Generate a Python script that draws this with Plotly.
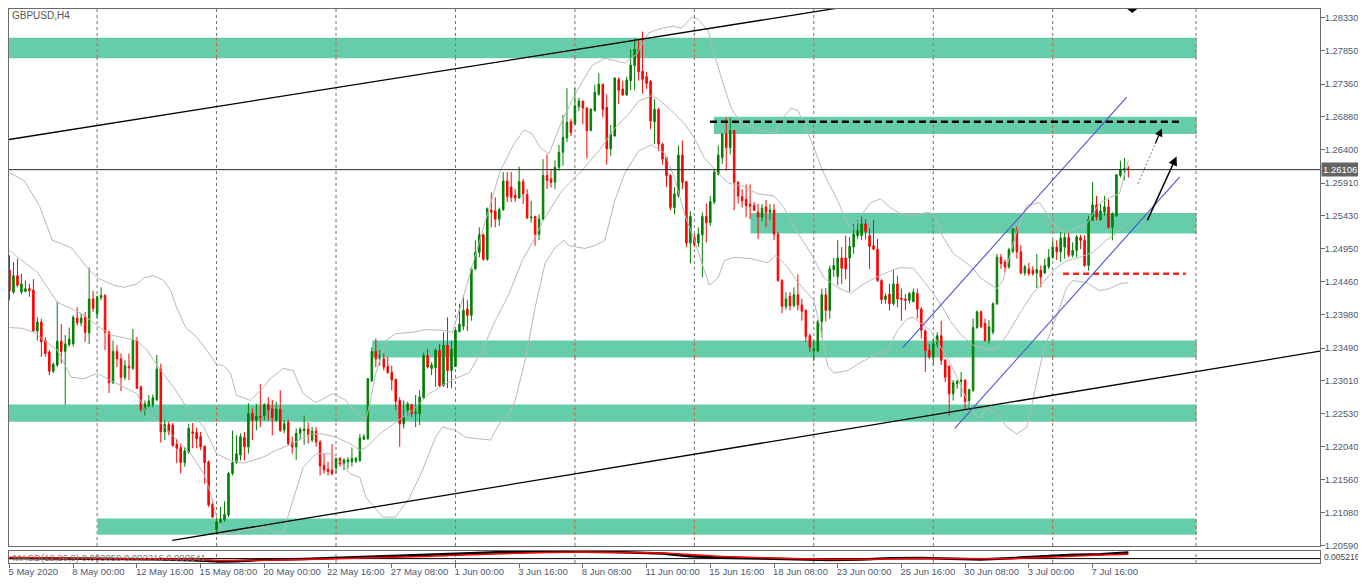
import plotly.graph_objects as go

# ---------------- data ----------------
tick_bars = [0, 16, 32, 48, 64, 80, 96, 112, 128, 144, 160, 176, 192, 208, 224, 240, 256, 272]
tick_text = ["5 May 2020", "8 May 00:00", "12 May 16:00", "15 May 08:00", "20 May 00:00",
             "22 May 16:00", "27 May 08:00", "1 Jun 00:00", "3 Jun 16:00", "8 Jun 08:00",
             "11 Jun 00:00", "15 Jun 16:00", "18 Jun 08:00", "23 Jun 00:00", "25 Jun 16:00",
             "30 Jun 08:00", "3 Jul 00:00", "7 Jul 16:00"]
price_ticks = [1.28330, 1.27850, 1.27360, 1.26880, 1.26400, 1.25910, 1.25430, 1.24950, 1.24460,
               1.23980, 1.23490, 1.23010, 1.22530, 1.22040, 1.21560, 1.21080, 1.20590]

opens = [
    1.2463, 1.2431, 1.2455, 1.2431, 1.2432, 1.2436, 1.2434, 1.2374, 1.2387, 1.2360,
    1.2343, 1.2315, 1.2324, 1.2359, 1.2344, 1.2354, 1.2355, 1.2393, 1.2386, 1.2395,
    1.2371, 1.2421, 1.2399, 1.2423, 1.2426, 1.2372, 1.2298, 1.2344, 1.2333, 1.2306,
    1.2322, 1.2319, 1.2360, 1.2292, 1.2258, 1.2264, 1.2266, 1.2273, 1.2318, 1.2226,
    1.2237, 1.2236, 1.2208, 1.2203, 1.2181, 1.2196, 1.2226, 1.2225, 1.2219, 1.2205,
    1.2182, 1.2120, 1.2082, 1.2093, 1.2097, 1.2104, 1.2165, 1.2181, 1.2192, 1.2218,
    1.2204, 1.2253, 1.2243, 1.2249, 1.2250, 1.2266, 1.2260, 1.2243, 1.2259, 1.2229,
    1.2240, 1.2210, 1.2204, 1.2224, 1.2228, 1.2230, 1.2214, 1.2227, 1.2211, 1.2177,
    1.2171, 1.2170, 1.2173, 1.2187, 1.2180, 1.2182, 1.2182, 1.2183, 1.2184, 1.2215,
    1.2216, 1.2301, 1.2344, 1.2333, 1.2333, 1.2322, 1.2313, 1.2303, 1.2272, 1.2238,
    1.2258, 1.2266, 1.2253, 1.2253, 1.2276, 1.2338, 1.2319, 1.2320, 1.2345, 1.2294,
    1.2353, 1.2316, 1.2322, 1.2373, 1.2381, 1.2406, 1.2397, 1.2465, 1.2489, 1.2515,
    1.2479, 1.2551, 1.2550, 1.2538, 1.2552, 1.2594, 1.2585, 1.2573, 1.2569, 1.2593,
    1.2574, 1.2540, 1.2542, 1.2516, 1.2538, 1.2602, 1.2597, 1.2592, 1.2614, 1.2636,
    1.2657, 1.2681, 1.2678, 1.2703, 1.2711, 1.2701, 1.2668, 1.2697, 1.2721, 1.2736,
    1.2702, 1.2641, 1.2660, 1.2743, 1.2729, 1.2720, 1.2741, 1.2763, 1.2787, 1.2755,
    1.2747, 1.2740, 1.2681, 1.2699, 1.2648, 1.2628, 1.2602, 1.2555, 1.2573, 1.2632,
    1.2593, 1.2503, 1.2511, 1.2503, 1.2515, 1.2542, 1.2533, 1.2563, 1.2604, 1.2628,
    1.2663, 1.2643, 1.2668, 1.2592, 1.2571, 1.2567, 1.2560, 1.2558, 1.2548, 1.2541,
    1.2556, 1.2548, 1.2551, 1.2516, 1.2448, 1.2410, 1.2425, 1.2411, 1.2427, 1.2412,
    1.2404, 1.2367, 1.2345, 1.2345, 1.2388, 1.2427, 1.2404, 1.2464, 1.2454, 1.2481,
    1.2481, 1.2481, 1.2497, 1.2514, 1.2514, 1.2531, 1.2514, 1.2499, 1.2494, 1.2448,
    1.2420, 1.2428, 1.2414, 1.2443, 1.2422, 1.2421, 1.2419, 1.2417, 1.2429, 1.2406,
    1.2374, 1.2346, 1.2336, 1.2355, 1.2367, 1.2331, 1.2322, 1.2282, 1.2297, 1.2300,
    1.2302, 1.2272, 1.2287, 1.2379, 1.2402, 1.2385, 1.2360, 1.2372, 1.2414, 1.2482,
    1.2475, 1.2468, 1.2491, 1.2524, 1.2490, 1.2459, 1.2465, 1.2463, 1.2459, 1.2463,
    1.2459, 1.2468, 1.2482, 1.2497, 1.2490, 1.2497, 1.2511, 1.2485, 1.2492, 1.2511,
    1.2507, 1.2470, 1.2536, 1.2559, 1.2537, 1.2548, 1.2556, 1.2526, 1.2543, 1.2602,
    1.2610, 1.2612]
highs = [
    1.2485, 1.2475, 1.2480, 1.2458, 1.2448, 1.2443, 1.2450, 1.2394, 1.2392, 1.2365,
    1.2346, 1.2328, 1.2417, 1.2384, 1.2368, 1.2379, 1.2397, 1.2409, 1.2400, 1.2402,
    1.2467, 1.2433, 1.2426, 1.2438, 1.2428, 1.2375, 1.2360, 1.2353, 1.2341, 1.2331,
    1.2341, 1.2377, 1.2365, 1.2294, 1.2272, 1.2280, 1.2281, 1.2339, 1.2326, 1.2243,
    1.2241, 1.2239, 1.2216, 1.2209, 1.2204, 1.2238, 1.2239, 1.2232, 1.2226, 1.2206,
    1.2184, 1.2127, 1.2102, 1.2116, 1.2124, 1.2167, 1.2228, 1.2221, 1.2224, 1.2226,
    1.2268, 1.2260, 1.2267, 1.2296, 1.2268, 1.2277, 1.2273, 1.2270, 1.2287, 1.2243,
    1.2244, 1.2219, 1.2231, 1.2233, 1.2250, 1.2240, 1.2233, 1.2233, 1.2214, 1.2194,
    1.2182, 1.2208, 1.2188, 1.2189, 1.2187, 1.2189, 1.2203, 1.2189, 1.2223, 1.2223,
    1.2305, 1.2350, 1.2363, 1.2346, 1.2341, 1.2336, 1.2323, 1.2304, 1.2277, 1.2272,
    1.2270, 1.2267, 1.2280, 1.2287, 1.2342, 1.2348, 1.2328, 1.2348, 1.2355, 1.2372,
    1.2394, 1.2360, 1.2376, 1.2414, 1.2426, 1.2419, 1.2468, 1.2507, 1.2526, 1.2517,
    1.2555, 1.2577, 1.2570, 1.2555, 1.2607, 1.2607, 1.2607, 1.2582, 1.2615, 1.2597,
    1.2582, 1.2565, 1.2543, 1.2545, 1.2626, 1.2633, 1.2611, 1.2624, 1.2647, 1.2691,
    1.2730, 1.2685, 1.2730, 1.2716, 1.2712, 1.2702, 1.2701, 1.2735, 1.2752, 1.2736,
    1.2721, 1.2676, 1.2746, 1.2746, 1.2741, 1.2747, 1.2787, 1.2803, 1.2800, 1.2813,
    1.2754, 1.2742, 1.2714, 1.2701, 1.2650, 1.2630, 1.2604, 1.2585, 1.2646, 1.2653,
    1.2594, 1.2550, 1.2516, 1.2526, 1.2548, 1.2561, 1.2572, 1.2611, 1.2646, 1.2663,
    1.2687, 1.2687, 1.2669, 1.2594, 1.2582, 1.2589, 1.2589, 1.2563, 1.2560, 1.2560,
    1.2566, 1.2560, 1.2560, 1.2519, 1.2450, 1.2431, 1.2431, 1.2438, 1.2457, 1.2421,
    1.2406, 1.2370, 1.2360, 1.2390, 1.2436, 1.2437, 1.2470, 1.2481, 1.2507, 1.2497,
    1.2514, 1.2512, 1.2531, 1.2537, 1.2545, 1.2538, 1.2525, 1.2537, 1.2509, 1.2450,
    1.2429, 1.2443, 1.2464, 1.2455, 1.2436, 1.2428, 1.2431, 1.2436, 1.2436, 1.2409,
    1.2377, 1.2355, 1.2363, 1.2372, 1.2389, 1.2333, 1.2324, 1.2302, 1.2302, 1.2314,
    1.2303, 1.2289, 1.2392, 1.2404, 1.2404, 1.2392, 1.2390, 1.2416, 1.2487, 1.2487,
    1.2479, 1.2496, 1.2524, 1.2527, 1.2500, 1.2471, 1.2474, 1.2469, 1.2487, 1.2470,
    1.2480, 1.2494, 1.2507, 1.2507, 1.2519, 1.2519, 1.2519, 1.2504, 1.2515, 1.2515,
    1.2514, 1.2543, 1.2592, 1.2572, 1.2560, 1.2572, 1.2567, 1.2548, 1.2604, 1.2624,
    1.2628, 1.2616]
lows = [
    1.2419, 1.2428, 1.2438, 1.2428, 1.2431, 1.2424, 1.2372, 1.2360, 1.2336, 1.2336,
    1.2309, 1.2312, 1.2321, 1.2326, 1.2266, 1.2351, 1.2351, 1.2382, 1.2381, 1.2358,
    1.2355, 1.2402, 1.2392, 1.2419, 1.2346, 1.2283, 1.2296, 1.2321, 1.2286, 1.2302,
    1.2302, 1.2317, 1.2289, 1.2255, 1.2250, 1.2262, 1.2262, 1.2271, 1.2210, 1.2214,
    1.2221, 1.2204, 1.2180, 1.2165, 1.2175, 1.2194, 1.2202, 1.2202, 1.2199, 1.2150,
    1.2116, 1.2100, 1.2077, 1.2092, 1.2094, 1.2101, 1.2162, 1.2179, 1.2184, 1.2184,
    1.2194, 1.2214, 1.2228, 1.2233, 1.2243, 1.2243, 1.2221, 1.2241, 1.2226, 1.2224,
    1.2206, 1.2194, 1.2185, 1.2214, 1.2207, 1.2209, 1.2211, 1.2204, 1.2162, 1.2165,
    1.2162, 1.2162, 1.2165, 1.2175, 1.2170, 1.2172, 1.2175, 1.2180, 1.2182, 1.2214,
    1.2214, 1.2299, 1.2321, 1.2323, 1.2316, 1.2311, 1.2287, 1.2258, 1.2204, 1.2231,
    1.2250, 1.2248, 1.2233, 1.2236, 1.2275, 1.2319, 1.2309, 1.2292, 1.2292, 1.2292,
    1.2290, 1.2290, 1.2321, 1.2372, 1.2375, 1.2374, 1.2389, 1.2463, 1.2482, 1.2477,
    1.2477, 1.2526, 1.2526, 1.2528, 1.2550, 1.2563, 1.2563, 1.2563, 1.2568, 1.2560,
    1.2538, 1.2533, 1.2499, 1.2507, 1.2536, 1.2582, 1.2584, 1.2582, 1.2609, 1.2616,
    1.2651, 1.2660, 1.2676, 1.2697, 1.2677, 1.2627, 1.2667, 1.2696, 1.2719, 1.2687,
    1.2618, 1.2631, 1.2659, 1.2707, 1.2719, 1.2719, 1.2727, 1.2727, 1.2741, 1.2722,
    1.2729, 1.2670, 1.2648, 1.2638, 1.2618, 1.2585, 1.2551, 1.2545, 1.2570, 1.2582,
    1.2497, 1.2473, 1.2497, 1.2497, 1.2453, 1.2504, 1.2528, 1.2560, 1.2602, 1.2619,
    1.2609, 1.2633, 1.2551, 1.2561, 1.2555, 1.2541, 1.2538, 1.2551, 1.2509, 1.2535,
    1.2526, 1.2536, 1.2507, 1.2446, 1.2400, 1.2405, 1.2404, 1.2409, 1.2404, 1.2389,
    1.2358, 1.2343, 1.2330, 1.2343, 1.2365, 1.2388, 1.2392, 1.2453, 1.2441, 1.2443,
    1.2450, 1.2431, 1.2487, 1.2509, 1.2507, 1.2508, 1.2465, 1.2493, 1.2446, 1.2414,
    1.2414, 1.2404, 1.2411, 1.2409, 1.2389, 1.2404, 1.2414, 1.2416, 1.2392, 1.2363,
    1.2314, 1.2333, 1.2324, 1.2350, 1.2324, 1.2299, 1.2250, 1.2272, 1.2289, 1.2277,
    1.2258, 1.2260, 1.2284, 1.2377, 1.2378, 1.2358, 1.2355, 1.2369, 1.2412, 1.2465,
    1.2460, 1.2465, 1.2488, 1.2480, 1.2457, 1.2455, 1.2455, 1.2455, 1.2437, 1.2438,
    1.2458, 1.2465, 1.2480, 1.2478, 1.2475, 1.2480, 1.2482, 1.2482, 1.2482, 1.2494,
    1.2468, 1.2462, 1.2536, 1.2536, 1.2536, 1.2543, 1.2524, 1.2507, 1.2541, 1.2599,
    1.2595, 1.2599]
closes = [
    1.2433, 1.2455, 1.2441, 1.2443, 1.2436, 1.2433, 1.2374, 1.2387, 1.2358, 1.2341,
    1.2315, 1.2325, 1.2359, 1.2344, 1.2355, 1.2362, 1.2394, 1.2386, 1.2393, 1.2372,
    1.2421, 1.2407, 1.2424, 1.2426, 1.2372, 1.2298, 1.2344, 1.2333, 1.2306, 1.2323,
    1.2320, 1.2360, 1.2290, 1.2259, 1.2267, 1.2271, 1.2276, 1.2318, 1.2226, 1.2237,
    1.2226, 1.2206, 1.2202, 1.2181, 1.2198, 1.2231, 1.2224, 1.2216, 1.2204, 1.2181,
    1.2119, 1.2101, 1.2094, 1.2098, 1.2105, 1.2165, 1.2181, 1.2194, 1.2219, 1.2204,
    1.2253, 1.2243, 1.2249, 1.2247, 1.2266, 1.2258, 1.2247, 1.2259, 1.2228, 1.2238,
    1.2209, 1.2204, 1.2224, 1.2230, 1.2230, 1.2222, 1.2227, 1.2211, 1.2176, 1.2170,
    1.2168, 1.2165, 1.2187, 1.2179, 1.2185, 1.2185, 1.2187, 1.2187, 1.2217, 1.2219,
    1.2304, 1.2344, 1.2333, 1.2338, 1.2321, 1.2313, 1.2302, 1.2271, 1.2238, 1.2248,
    1.2267, 1.2253, 1.2255, 1.2277, 1.2338, 1.2321, 1.2324, 1.2346, 1.2294, 1.2353,
    1.2316, 1.2347, 1.2375, 1.2384, 1.2404, 1.2397, 1.2465, 1.2489, 1.2515, 1.2479,
    1.2553, 1.2548, 1.2538, 1.2552, 1.2594, 1.2571, 1.2570, 1.2569, 1.2593, 1.2575,
    1.2540, 1.2541, 1.2516, 1.2538, 1.2602, 1.2595, 1.2592, 1.2614, 1.2636, 1.2658,
    1.2680, 1.2665, 1.2704, 1.2711, 1.2701, 1.2668, 1.2699, 1.2724, 1.2736, 1.2699,
    1.2641, 1.2663, 1.2745, 1.2727, 1.2720, 1.2742, 1.2764, 1.2787, 1.2754, 1.2743,
    1.2737, 1.2682, 1.2699, 1.2648, 1.2626, 1.2602, 1.2555, 1.2575, 1.2632, 1.2592,
    1.2503, 1.2542, 1.2501, 1.2516, 1.2542, 1.2533, 1.2564, 1.2607, 1.2632, 1.2663,
    1.2643, 1.2668, 1.2592, 1.2572, 1.2565, 1.2558, 1.2557, 1.2551, 1.2541, 1.2554,
    1.2548, 1.2551, 1.2516, 1.2448, 1.2410, 1.2421, 1.2411, 1.2427, 1.2412, 1.2403,
    1.2366, 1.2350, 1.2348, 1.2388, 1.2427, 1.2404, 1.2465, 1.2470, 1.2481, 1.2466,
    1.2465, 1.2498, 1.2516, 1.2521, 1.2531, 1.2520, 1.2498, 1.2494, 1.2448, 1.2420,
    1.2425, 1.2414, 1.2443, 1.2421, 1.2420, 1.2419, 1.2429, 1.2431, 1.2406, 1.2375,
    1.2345, 1.2336, 1.2355, 1.2367, 1.2331, 1.2306, 1.2282, 1.2298, 1.2300, 1.2302,
    1.2271, 1.2288, 1.2379, 1.2402, 1.2380, 1.2360, 1.2380, 1.2414, 1.2482, 1.2473,
    1.2468, 1.2493, 1.2524, 1.2490, 1.2459, 1.2468, 1.2458, 1.2458, 1.2464, 1.2453,
    1.2470, 1.2482, 1.2497, 1.2490, 1.2510, 1.2511, 1.2485, 1.2492, 1.2512, 1.2507,
    1.2470, 1.2538, 1.2559, 1.2541, 1.2550, 1.2556, 1.2526, 1.2546, 1.2603, 1.2610,
    1.2612, 1.26106]
bars = list(range(len(opens)))

# Bollinger band lines (bar index, price)
bb_upper_x = [0, 3.75, 7.5, 10.75, 15.5, 19.5, 22, 26.25, 28.75, 32,
              33.75, 36.25, 38.75, 40.5, 42, 44.25, 47, 49.5, 52, 53.75,
              55.5, 57, 60.5, 63.75, 65.5, 68.75, 71.25, 73.75, 77, 81.25,
              84.5, 87, 89.5, 90.5, 92, 94.5, 97, 101.25, 104.5, 108.75,
              111.25, 113.75, 116.25, 120, 123.25, 126.75, 129.25, 131.25, 133.25, 135.5,
              138.75, 142.5, 146.25, 149.5, 154.5, 157.5, 160.5, 163.75, 166.75, 168.75,
              171.25, 173, 175.5, 177, 179.25, 181.25, 183.75, 186.25, 190.5, 192.5,
              193.75, 196.25, 198, 199.5, 202, 204.5, 208, 210.5, 212, 214.25,
              216.25, 218.75, 221.25, 223.75, 227, 230.5, 232, 234.5, 237, 239.5,
              242, 243.75, 248, 249.5, 251.25, 253, 255.5, 258.75, 260.5, 263,
              265.5, 268, 270.5, 273.75, 276.25, 278.75, 281]
bb_upper = [1.2606, 1.2594, 1.2558, 1.2507, 1.2496, 1.2467, 1.2452, 1.2441, 1.2438, 1.2443,
            1.2452, 1.2455, 1.2448, 1.2433, 1.2408, 1.2379, 1.2365, 1.2346, 1.2325, 1.2323,
            1.2312, 1.2280, 1.2272, 1.2291, 1.2304, 1.2319, 1.2316, 1.2282, 1.2269, 1.2282,
            1.2272, 1.2253, 1.2243, 1.2268, 1.2312, 1.2360, 1.2370, 1.2372, 1.2376, 1.2375,
            1.2372, 1.2419, 1.2470, 1.2543, 1.2609, 1.2649, 1.2669, 1.2663, 1.2643, 1.2634,
            1.2682, 1.2726, 1.2763, 1.2774, 1.2767, 1.2780, 1.2811, 1.2818, 1.2821, 1.2818,
            1.2834, 1.2831, 1.2814, 1.2780, 1.2736, 1.2701, 1.2678, 1.2673, 1.2665, 1.2665,
            1.2682, 1.2701, 1.2697, 1.2678, 1.2643, 1.2605, 1.2565, 1.2531, 1.2524, 1.2546,
            1.2562, 1.2568, 1.2555, 1.2546, 1.2543, 1.2548, 1.2546, 1.2511, 1.2488, 1.2477,
            1.2466, 1.2452, 1.2436, 1.2448, 1.2485, 1.2521, 1.2558, 1.2562, 1.2546, 1.2526,
            1.2517, 1.2526, 1.2531, 1.2561, 1.2570, 1.2575, 1.2624]
bb_mid_x = [0, 7, 12, 18, 22, 25.5, 32, 34.5, 38, 41.25,
            44.5, 48.75, 52, 55.5, 58.75, 63.75, 67, 71.25, 75.5, 78.75,
            82, 85.5, 88, 89.5, 93, 97, 101.25, 105.5, 109.5, 112,
            115.5, 118.75, 122, 125.5, 128.75, 132, 133.75, 138.75, 143.75, 148,
            152, 155.5, 158, 161.25, 163, 166.25, 169.5, 172, 174.5, 178,
            180.5, 183.75, 188, 192, 194.5, 198, 201.25, 204.5, 208, 211.25,
            214.5, 219.5, 223.75, 227, 229.5, 232, 233.75, 236.25, 238.75, 242,
            246.25, 248, 250.5, 253.75, 257, 260.5, 263, 265.5, 268.75, 272,
            275.5, 278, 281]
bb_mid = [1.2492, 1.2460, 1.2416, 1.2400, 1.2382, 1.2368, 1.2360, 1.2346, 1.2316, 1.2291,
          1.2262, 1.2233, 1.2194, 1.2184, 1.2180, 1.2189, 1.2199, 1.2209, 1.2223, 1.2223,
          1.2218, 1.2209, 1.2199, 1.2203, 1.2223, 1.2240, 1.2258, 1.2282, 1.2297, 1.2304,
          1.2313, 1.2346, 1.2389, 1.2429, 1.2477, 1.2511, 1.2533, 1.2580, 1.2609, 1.2638,
          1.2671, 1.2692, 1.2711, 1.2719, 1.2714, 1.2697, 1.2678, 1.2657, 1.2628, 1.2605,
          1.2591, 1.2587, 1.2575, 1.2572, 1.2555, 1.2517, 1.2488, 1.2452, 1.2438, 1.2429,
          1.2443, 1.2458, 1.2467, 1.2466, 1.2448, 1.2429, 1.2414, 1.2389, 1.2370, 1.2353,
          1.2346, 1.2349, 1.2368, 1.2400, 1.2429, 1.2452, 1.2467, 1.2477, 1.2482, 1.2489,
          1.2507, 1.2517, 1.2533]
bb_lower_x = [0, 3, 6.25, 8.75, 12, 15.5, 18.75, 22, 25.5, 28.75,
              32, 34.5, 38, 42, 45.5, 48.75, 50.5, 52, 53.75, 56.25,
              58.75, 63.75, 67, 68.75, 71.25, 73.75, 77, 81.25, 85.5, 88,
              89.5, 93.75, 97, 100.5, 103.75, 107, 108.75, 112, 114.5, 120.75,
              123.25, 125.5, 127, 129.5, 132, 134.5, 137, 139.25, 140.5, 144.5,
              147, 149.5, 152, 154.5, 158, 161.25, 164.5, 167, 169.5, 172,
              174.5, 175.75, 178, 179.5, 182, 186.25, 190.5, 192.5, 195.5, 198,
              200.5, 202, 203.75, 205.5, 207, 210.5, 213.75, 217, 220.5, 223,
              225.5, 227, 228.75, 231.25, 235.5, 238, 240.5, 242, 243.75, 245.5,
              248, 250.5, 253, 255.5, 257, 259.5, 261.25, 263.75, 265.5, 267,
              270.5, 273.75, 276.25, 278.75, 281]
bb_lower = [1.2379, 1.2378, 1.2372, 1.2360, 1.2346, 1.2306, 1.2304, 1.2312, 1.2301, 1.2291,
            1.2282, 1.2253, 1.2239, 1.2214, 1.2194, 1.2165, 1.2136, 1.2101, 1.2078, 1.2075,
            1.2082, 1.2086, 1.2078, 1.2079, 1.2126, 1.2174, 1.2194, 1.2194, 1.2165, 1.2159,
            1.2130, 1.2101, 1.2101, 1.2130, 1.2170, 1.2218, 1.2233, 1.2228, 1.2218, 1.2214,
            1.2240, 1.2253, 1.2272, 1.2331, 1.2408, 1.2473, 1.2496, 1.2507, 1.2499, 1.2495,
            1.2499, 1.2507, 1.2565, 1.2605, 1.2638, 1.2647, 1.2635, 1.2599, 1.2546, 1.2507,
            1.2463, 1.2441, 1.2452, 1.2477, 1.2482, 1.2480, 1.2474, 1.2485, 1.2467, 1.2445,
            1.2429, 1.2419, 1.2375, 1.2323, 1.2312, 1.2316, 1.2328, 1.2338, 1.2346, 1.2375,
            1.2392, 1.2394, 1.2386, 1.2375, 1.2335, 1.2306, 1.2272, 1.2253, 1.2246, 1.2261,
            1.2253, 1.2233, 1.2223, 1.2233, 1.2272, 1.2341, 1.2370, 1.2408, 1.2438, 1.2448,
            1.2445, 1.2433, 1.2436, 1.2443, 1.2445]

# MACD sub-window
macd_x = [0, 14, 24, 36, 46, 53, 57, 64, 74, 84, 94, 104, 114, 124, 134, 144, 154, 164,
          171, 179, 189, 199, 206, 214, 221, 229, 236, 244, 251, 259, 266, 274, 281]
macd_main = [0.0003, 0.0002, 0.0, -0.0003, -0.0008, -0.0014, -0.0013, -0.0006, -0.0002, 0.0004,
             0.0010, 0.0016, 0.0025, 0.0033, 0.0035, 0.0034, 0.0032, 0.0025, 0.0012, 0.0004,
             0.0, -0.0004, -0.0007, -0.0004, 0.0002, 0.0003, 0.0, -0.0004, 0.0002, 0.0012,
             0.0018, 0.0022, 0.0030]
macd_signal = [0.0005, 0.0003, 0.0001, -0.0001, -0.0005, -0.0009, -0.0010, -0.0008, -0.0004, 0.0,
               0.0006, 0.0011, 0.0018, 0.0026, 0.0031, 0.0033, 0.0032, 0.0028, 0.0020, 0.0011,
               0.0004, -0.0001, -0.0005, -0.0005, -0.0001, 0.0002, 0.0001, -0.0002, -0.0001, 0.0006,
               0.0013, 0.0018, 0.0022]

# drawn objects (time in bar index, price)
zone_start = [-2, 176.9, 186.1, 91.1, -2, 22.1]
zone_end = [298.1, 298.1, 298.1, 298.1, 298.1, 298.1]
zone_top = [1.2804, 1.2688, 1.2547, 1.2360, 1.2266, 1.2099]
zone_bottom = [1.2774, 1.2663, 1.2517, 1.2335, 1.2241, 1.2075]
separator_bars = [22, 52, 82, 112, 142, 172, 202, 232, 262, 298]
trend_x0 = [-1.0, 40.9]
trend_y0 = [1.2654, 1.2067]
trend_x1 = [230.1, 333.9]
trend_y1 = [1.2868, 1.2349]
channel_x0 = [224.4, 237.4]
channel_y0 = [1.2350, 1.2231]
channel_x1 = [280.6, 293.9]
channel_y1 = [1.2717, 1.2600]
last_price = 1.26106
target_level = 1.2681
target_span = [175.9, 294.6]
support_level = 1.2458
support_span = [264.6, 295.4]
arrow_dotted = [283.4, 1.2590, 289.4, 1.2671]
arrow_solid = [285.6, 1.2534, 293.1, 1.2630]

# ---------------- figure ----------------
# The page body has an 8px margin, so the figure is sized to fit inside the 1366x588 window.
W, H = 1350, 572
ML, MR, MT, MB = 0, 37, 0, 17
PW, PH = W - ML - MR, H - MT - MB
OFF = 8
FONT = "Liberation Sans"
AXTXT = "#4d5870"
FRAME = "#6a6a6a"


def px_x(px):
    # window pixel -> paper fraction
    return (px - OFF - ML) / PW


def px_y(py):
    return (H - MB - (py - OFF)) / PH


fig = go.Figure()
for xs, ys in [(bb_upper_x, bb_upper), (bb_mid_x, bb_mid), (bb_lower_x, bb_lower)]:
    fig.add_trace(go.Scatter(x=xs, y=ys, mode="lines", line=dict(color="#b9b9b9", width=1),
                             hoverinfo="skip", showlegend=False, xaxis="x", yaxis="y"))

fig.add_trace(go.Candlestick(
    x=bars, open=opens, high=highs, low=lows, close=closes,
    increasing=dict(line=dict(color="#008000", width=1), fillcolor="#008000"),
    decreasing=dict(line=dict(color="#ff0000", width=1), fillcolor="#ff0000"),
    whiskerwidth=0, hoverinfo="skip", showlegend=False, xaxis="x", yaxis="y"))

fig.add_trace(go.Scatter(x=macd_x, y=macd_main, mode="lines", line=dict(color="black", width=2.5),
                         hoverinfo="skip", showlegend=False, xaxis="x2", yaxis="y2"))
fig.add_trace(go.Scatter(x=macd_x, y=macd_signal, mode="lines", line=dict(color="#ff0000", width=1.5),
                         hoverinfo="skip", showlegend=False, xaxis="x2", yaxis="y2"))

shapes = []
for x0, x1, t, b in zip(zone_start, zone_end, zone_top, zone_bottom):
    shapes.append(dict(type="rect", xref="x", yref="y", x0=x0, x1=x1, y0=b, y1=t,
                       fillcolor="#66cdaa", line=dict(width=0), layer="below"))
for g in separator_bars:
    shapes.append(dict(type="line", xref="x", yref="y domain", x0=g, x1=g, y0=0, y1=1,
                       line=dict(color="#707070", width=1, dash="3px,3px"), layer="below"))
    shapes.append(dict(type="line", xref="x", yref="y2 domain", x0=g, x1=g, y0=0, y1=1,
                       line=dict(color="#707070", width=1, dash="3px,3px"), layer="below"))
    for x0, x1, t, b in zip(zone_start, zone_end, zone_top, zone_bottom):
        if x0 <= g <= x1:
            shapes.append(dict(type="line", xref="x", yref="y", x0=g, x1=g, y0=b, y1=t,
                               line=dict(color="#e0553a", width=1, dash="3px,3px"), layer="below"))
shapes.append(dict(type="line", xref="x2 domain", yref="y2", x0=0, x1=1, y0=0, y1=0,
                   line=dict(color="black", width=1), layer="below"))
for x0, y0, x1, y1 in zip(trend_x0, trend_y0, trend_x1, trend_y1):
    shapes.append(dict(type="line", xref="x", yref="y", x0=x0, y0=y0, x1=x1, y1=y1,
                       line=dict(color="black", width=1.3), layer="above"))
for x0, y0, x1, y1 in zip(channel_x0, channel_y0, channel_x1, channel_y1):
    shapes.append(dict(type="line", xref="x", yref="y", x0=x0, y0=y0, x1=x1, y1=y1,
                       line=dict(color="#4a52d6", width=1.1), layer="above"))
shapes.append(dict(type="line", xref="x domain", yref="y", x0=0, x1=1, y0=last_price, y1=last_price,
                   line=dict(color="#2a2a2a", width=1), layer="above"))
shapes.append(dict(type="line", xref="x", yref="y", x0=target_span[0], x1=target_span[1],
                   y0=target_level, y1=target_level,
                   line=dict(color="black", width=2.5, dash="7px,4px"), layer="above"))
shapes.append(dict(type="line", xref="x", yref="y", x0=support_span[0], x1=support_span[1],
                   y0=support_level, y1=support_level,
                   line=dict(color="#ff2020", width=2.5, dash="6px,4px"), layer="above"))
ax0, ay0, ax1, ay1 = arrow_dotted
shapes.append(dict(type="line", xref="x", yref="y", x0=ax0, y0=ay0,
                   x1=ax0 + (ax1 - ax0) * 0.85, y1=ay0 + (ay1 - ay0) * 0.85,
                   line=dict(color="#777777", width=1, dash="2px,2px"), layer="above"))
# chart-shift marker at the top edge
shapes.append(dict(type="path", xref="paper", yref="paper",
                   path=f"M {px_x(1128)} {px_y(8)} L {px_x(1138)} {px_y(8)} L {px_x(1133)} {px_y(12)} Z",
                   fillcolor="black", line=dict(width=0)))

annotations = [
    dict(text="GBPUSD,H4", xref="paper", yref="paper", x=px_x(9), y=px_y(7),
         xanchor="left", yanchor="top", showarrow=False,
         font=dict(family=FONT, size=10, color="#555555")),
    dict(text="MACD(12,26,9) 0.003050 0.002216 0.000641", xref="paper", yref="y2 domain",
         x=px_x(10), y=0.45, xanchor="left", yanchor="middle", showarrow=False,
         font=dict(family=FONT, size=9.5, color="#777777")),
    dict(text="1.26106", xref="paper", yref="y", x=px_x(1322), y=last_price, xanchor="left",
         yanchor="middle", showarrow=False, bgcolor="#646464", borderpad=1,
         font=dict(family=FONT, size=9.5, color="white")),
    dict(text="0.005216", xref="paper", yref="y2 domain", x=px_x(1323), y=0.5,
         xanchor="left", yanchor="middle", showarrow=False,
         font=dict(family=FONT, size=8.5, color="#444444")),
    dict(text="", xref="x", yref="y", axref="x", ayref="y",
         x=ax1, y=ay1, ax=ax0 + (ax1 - ax0) * 0.7, ay=ay0 + (ay1 - ay0) * 0.7,
         showarrow=True, arrowhead=2, arrowsize=1.3, arrowwidth=1.2, arrowcolor="black"),
    dict(text="", xref="x", yref="y", axref="x", ayref="y",
         x=arrow_solid[2], y=arrow_solid[3], ax=arrow_solid[0], ay=arrow_solid[1],
         showarrow=True, arrowhead=2, arrowsize=1.2, arrowwidth=1.5, arrowcolor="black"),
]

x_range = [-0.125, (1321 - 4.5) / 4]
y_top = 1.28579 - 0.0001464 * 8
main_bottom = px_y(546)
sub_top = px_y(551)

fig.update_layout(
    width=W, height=H,
    margin=dict(l=ML, r=MR, t=MT, b=MB, pad=0),
    paper_bgcolor="white", plot_bgcolor="white",
    showlegend=False, boxgap=0.45,
    font=dict(family=FONT, size=10, color=AXTXT),
    xaxis=dict(domain=[0, 1], anchor="y", range=x_range, showgrid=False, zeroline=False,
               showticklabels=False, ticks="", showline=True, mirror=True, linecolor=FRAME,
               linewidth=1, rangeslider=dict(visible=False)),
    yaxis=dict(domain=[main_bottom, 1], anchor="x", side="right",
               range=[1.205856, y_top], showgrid=False, zeroline=False,
               tickmode="array", tickvals=price_ticks, ticktext=[f"{v:.5f}" for v in price_ticks],
               ticks="outside", ticklen=4, tickcolor=FRAME, ticklabelstandoff=-2,
               tickfont=dict(family=FONT, size=9.3, color=AXTXT),
               showline=True, mirror=True, linecolor=FRAME, linewidth=1),
    xaxis2=dict(domain=[0, 1], anchor="y2", range=x_range, showgrid=False, zeroline=False,
                tickmode="array", tickvals=tick_bars, ticktext=tick_text, tickangle=0,
                ticks="outside", ticklen=4, tickcolor=FRAME, ticklabelposition="outside right",
                ticklabelshift=-2,
                tickfont=dict(family=FONT, size=9.5, color=AXTXT),
                showline=True, mirror=True, linecolor=FRAME, linewidth=1),
    yaxis2=dict(domain=[0, sub_top], anchor="x2", side="right", range=[-0.0022, 0.0038],
                showgrid=False, zeroline=False, showticklabels=False, ticks="",
                showline=True, mirror=True, linecolor=FRAME, linewidth=1),
    shapes=shapes,
    annotations=annotations,
)

fig.write_html("out.html")
